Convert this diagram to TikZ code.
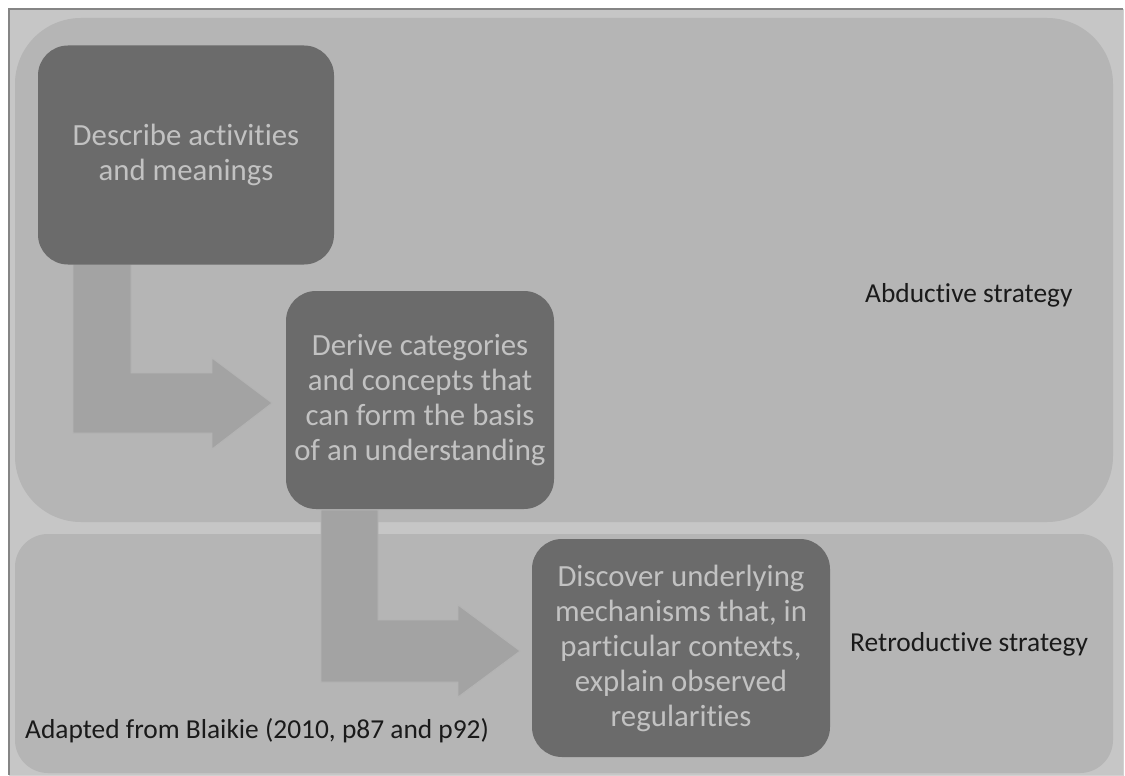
\documentclass[tikz,border=0pt]{standalone}
\usepackage{fontspec}
\setmainfont{Carlito}[Ligatures=NoCommon]
\begin{document}
\definecolor{framefill}{HTML}{C6C6C6}
\definecolor{frameline}{HTML}{858585}
\definecolor{panelfill}{HTML}{B5B5B5}
\definecolor{boxfill}{HTML}{6B6B6B}
\definecolor{boxtext}{HTML}{C2C2C2}
\definecolor{arrowfill}{HTML}{A3A3A3}
\definecolor{arrowline}{HTML}{B4B4B4}
\definecolor{labeltext}{HTML}{1A1A1A}
\begin{tikzpicture}[x=1pt,y=-1pt,
  panel/.style={fill=panelfill,draw=none},
  stepbox/.style={fill=boxfill,draw=none,rounded corners=30pt,
    text=boxtext,align=center,inner sep=0pt,
    font=\fontsize{30.8}{35}\selectfont},
  blockarrow/.style={fill=arrowfill,draw=arrowline,line width=0.8pt,line join=miter},
  strategy/.style={text=labeltext,inner sep=0pt,anchor=base west,
    font=\fontsize{27.4}{32}\selectfont}]
\useasboundingbox (0,0) rectangle (1125,776);
\fill[white] (0,0) rectangle (1125,776);

% outer frame
\fill[framefill] (9,9) rectangle (1123,775);
\draw[frameline,line width=1.6pt] (9,775) -- (9,9) -- (1123,9);
\draw[framefill!80!white,line width=1pt] (1123,9) -- (1123,775) -- (9,775);

% strategy panels
\fill[panel,rounded corners=66pt] (15,18) rectangle (1113,522);
\fill[panel,rounded corners=33pt] (15,534) rectangle (1113,773);

% bent block arrows between the steps
\draw[blockarrow] (73,264) -- (131,264) -- (131,373) -- (212,373) -- (212,358)
  -- (272,403) -- (212,449) -- (212,433) -- (73,433) -- cycle;
\draw[blockarrow] (321,510) -- (378,510) -- (378,620) -- (458,620) -- (458,605)
  -- (520,651) -- (458,697) -- (458,682) -- (321,682) -- cycle;

% steps
\node[stepbox,minimum width=296pt,minimum height=219pt] (describe) at (186,155)
  {Describe activities\\and meanings};
\node[stepbox,minimum width=268pt,minimum height=218pt] (derive) at (420,400)
  {Derive categories\\and concepts that\\can form the basis\\of an understanding};
\node[stepbox,minimum width=298pt,minimum height=218pt] (discover) at (681,648)
  {Discover underlying\\mechanisms that, in\\particular contexts,\\explain observed\\regularities};

% labels
\node[strategy] (abductive) at (865,302) {Abductive strategy};
\node[strategy] (retroductive) at (850,651) {Retroductive strategy};
\node[strategy] (source) at (25,738) {Adapted from Blaikie (2010, p87 and p92)};
\end{tikzpicture}
\end{document}
